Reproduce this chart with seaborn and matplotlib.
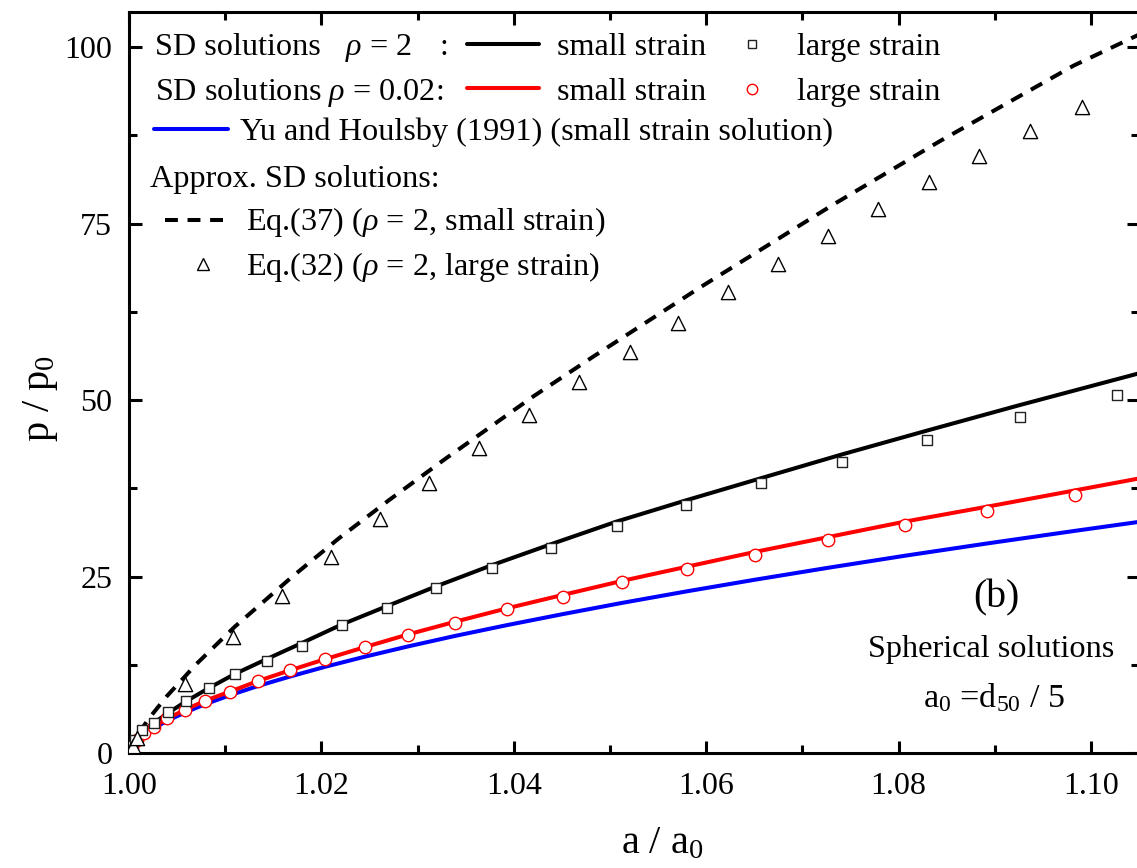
import matplotlib
matplotlib.use("Agg")
import matplotlib.pyplot as plt
from matplotlib.lines import Line2D
from matplotlib.ticker import MultipleLocator, FormatStrFormatter
import seaborn as sns

# ---- data: a/a0 versus p/p0 ----
# SD solution, rho = 2, small strain (solid black)
x_rho2_small = [1.0000, 1.0003, 1.0007, 1.0013, 1.0026, 1.0041, 1.0059, 1.0083, 1.0110,
                1.0143, 1.0180, 1.0221, 1.0268, 1.0319, 1.0377, 1.0439, 1.0507, 1.0579,
                1.0666, 1.0741, 1.0830, 1.0926, 1.1050]
y_rho2_small = [0.0, 0.95, 1.7, 3.0, 4.3, 5.7, 7.3, 9.2, 11.2,
                13.3, 15.6, 18.2, 20.8, 23.6, 26.6, 29.6, 32.8, 35.8,
                39.3, 42.3, 45.7, 49.3, 53.8]

# SD solution, rho = 2, large strain (squares)
x_rho2_large = [1.0000, 1.0001, 1.0003, 1.0006, 1.0013, 1.0026, 1.0041, 1.0059, 1.0083,
                1.0110, 1.0143, 1.0180, 1.0221, 1.0268, 1.0319, 1.0377, 1.0439, 1.0507,
                1.0579, 1.0657, 1.0741, 1.0830, 1.0926, 1.1027]
y_rho2_large = [0.0, 0.4, 1.0, 1.8, 3.2, 4.3, 5.8, 7.4, 9.2,
                11.2, 13.0, 15.2, 18.1, 20.6, 23.4, 26.2, 29.1, 32.1,
                35.1, 38.2, 41.3, 44.4, 47.6, 50.7]

# SD solution, rho = 0.02, small strain (solid red)
x_rho002_small = [1.0000, 1.0003, 1.0007, 1.0016, 1.0026, 1.0040, 1.0058, 1.0079, 1.0105,
                  1.0134, 1.0167, 1.0204, 1.0245, 1.0290, 1.0339, 1.0393, 1.0451, 1.0513,
                  1.0580, 1.0651, 1.0727, 1.0807, 1.0892, 1.0983, 1.1050]
y_rho002_small = [0.0, 1.0, 1.8, 2.9, 3.7, 4.9, 6.1, 7.4, 8.7,
                  10.2, 11.7, 13.3, 15.0, 16.8, 18.6, 20.5, 22.4, 24.4,
                  26.4, 28.5, 30.6, 32.8, 34.9, 37.2, 38.9]

# SD solution, rho = 0.02, large strain (circles)
x_rho002_large = [1.0000, 1.0003, 1.0008, 1.0016, 1.0026, 1.0040, 1.0058, 1.0079, 1.0105,
                  1.0134, 1.0167, 1.0204, 1.0245, 1.0290, 1.0339, 1.0393, 1.0451, 1.0513,
                  1.0580, 1.0651, 1.0727, 1.0807, 1.0892, 1.0983]
y_rho002_large = [0.0, 0.9, 1.9, 2.9, 3.7, 4.9, 6.1, 7.4, 8.7,
                  10.2, 11.7, 13.3, 15.0, 16.7, 18.4, 20.4, 22.1, 24.2,
                  26.1, 28.1, 30.2, 32.3, 34.3, 36.5]

# Yu and Houlsby (1991), small strain (solid blue)
x_yu = [1.0000, 1.0003, 1.0007, 1.0016, 1.0026, 1.0040, 1.0058, 1.0079, 1.0105,
        1.0134, 1.0167, 1.0204, 1.0245, 1.0290, 1.0339, 1.0393, 1.0451, 1.0513,
        1.0580, 1.0651, 1.0727, 1.0807, 1.0892, 1.0983, 1.1050]
y_yu = [0.0, 0.96, 1.6, 2.64, 3.54, 4.58, 5.73, 6.9, 8.19,
        9.49, 10.82, 12.22, 13.64, 15.1, 16.59, 18.12, 19.68, 21.28,
        22.91, 24.56, 26.25, 27.96, 29.69, 31.47, 32.75]

# Approximate solution Eq.(37), rho = 2, small strain (dashed)
x_eq37 = [1.0000, 1.0008, 1.0020, 1.0039, 1.0070, 1.0110, 1.0169, 1.0218, 1.0270,
          1.0328, 1.0420, 1.0483, 1.0594, 1.0732, 1.0843, 1.0982, 1.1050]
y_eq37 = [0.0, 2.34, 4.77, 8.0, 12.6, 17.9, 24.9, 30.4, 35.8,
          41.6, 50.5, 56.2, 66.0, 77.7, 86.7, 97.4, 101.8]

# Approximate solution Eq.(32), rho = 2, large strain (triangles)
x_eq32 = [1.0000, 1.0002, 1.0004, 1.00083, 1.0058, 1.0108, 1.0159, 1.0210, 1.0261,
          1.0312, 1.0364, 1.0416, 1.0468, 1.0521, 1.0571, 1.0623, 1.0675, 1.0727,
          1.0779, 1.0832, 1.0884, 1.0937, 1.0991]
y_eq32 = [0.0, 0.5, 1.0, 2.1, 9.8, 16.4, 22.2, 27.8, 33.1,
          38.2, 43.2, 47.9, 52.5, 56.8, 61.0, 65.3, 69.3, 73.2,
          77.1, 80.9, 84.6, 88.1, 91.6]

x_ticks = [1.00, 1.02, 1.04, 1.06, 1.08, 1.10]
y_ticks = [0, 25, 50, 75, 100]

# ---- style ----
sns.set_theme(style="ticks")
plt.rcParams['font.family'] = ['Liberation Serif', 'DejaVu Serif']
plt.rcParams['mathtext.fontset'] = 'custom'
plt.rcParams['mathtext.rm'] = 'Liberation Serif'
plt.rcParams['mathtext.it'] = 'Liberation Serif:italic'
plt.rcParams['mathtext.bf'] = 'Liberation Serif:bold'

W, H = 1137, 868
fig = plt.figure(figsize=(W / 100, H / 100), dpi=100)
fig.patch.set_facecolor('white')
ax = fig.add_axes([129 / W, (H - 753) / H, 1010 / W, 741 / H])
ax.set_facecolor('white')

LW = 2.9
RED = '#ff0000'
BLUE = '#0000ff'
DASH = (0, (3.2, 2.4))

sns.lineplot(x=x_yu, y=y_yu, ax=ax, color=BLUE, lw=LW, sort=False, estimator=None, zorder=2)
sns.lineplot(x=x_rho002_small, y=y_rho002_small, ax=ax, color=RED, lw=LW, sort=False,
             estimator=None, zorder=2.1)
sns.lineplot(x=x_rho2_small, y=y_rho2_small, ax=ax, color='black', lw=LW, sort=False,
             estimator=None, zorder=2.2)
sns.lineplot(x=x_eq37, y=y_eq37, ax=ax, color='black', lw=LW, sort=False, estimator=None,
             linestyle=DASH, zorder=2.3)

sns.scatterplot(x=x_rho002_large, y=y_rho002_large, ax=ax, marker='o', s=80,
                color='white', edgecolor=RED, linewidth=1.0, zorder=3)
sns.scatterplot(x=x_rho2_large, y=y_rho2_large, ax=ax, marker='s', s=42,
                color='white', edgecolor='#222222', linewidth=1.0, zorder=3.1)
sns.scatterplot(x=x_eq32, y=y_eq32, ax=ax, marker='^', s=105,
                color='white', edgecolor='black', linewidth=1.0, zorder=3.2)

# ---- axes ----
ax.set_xlim(1.0, 1.105)
ax.set_ylim(0, 105)
ax.set_xticks(x_ticks)
ax.set_yticks(y_ticks)
ax.xaxis.set_major_formatter(FormatStrFormatter('%.2f'))
ax.xaxis.set_minor_locator(MultipleLocator(0.01))
ax.yaxis.set_minor_locator(MultipleLocator(12.5))
ax.tick_params(which='both', direction='in', top=True, right=True, width=2.2,
               color='black', labelsize=23, labelcolor='black')
ax.tick_params(which='major', length=9)
ax.tick_params(which='minor', length=5.5)
ax.tick_params(axis='x', pad=14)
ax.tick_params(axis='y', pad=12)
for sp in ax.spines.values():
    sp.set_linewidth(2.2)
    sp.set_color('black')
ax.grid(False)

xl = ax.set_xlabel('a / a$_0$', fontsize=29, color='black')
xl.set_va('baseline')
ax.xaxis.set_label_coords(0.528, -(853 - 753) / 741)
yl = ax.set_ylabel('p / p$_0$', fontsize=29, color='black')
ax.yaxis.set_label_coords((60 - 129) / 1010, (753 - 398) / 741)


# ---- key (figure pixel coordinates, origin at top-left) ----
def fx(px):
    return px / W


def fy(py):
    return 1 - py / H


FS = 23.2
tkw = dict(transform=fig.transFigure, fontsize=FS, va='baseline', ha='left', color='black')


def sample_line(x0, x1, y, **kw):
    fig.add_artist(Line2D([fx(x0), fx(x1)], [fy(y), fy(y)], transform=fig.transFigure, **kw))


def sample_marker(x, y, **kw):
    fig.add_artist(Line2D([fx(x)], [fy(y)], transform=fig.transFigure, linestyle='none', **kw))


fig.text(fx(155), fy(55), 'SD solutions', **tkw)
fig.text(fx(345), fy(55), r'$\rho$ = 2', **tkw)
fig.text(fx(440), fy(55), ':', **tkw)
sample_line(467, 539, 44, color='black', lw=LW)
fig.text(fx(557), fy(55), 'small strain', **tkw)
sample_marker(752, 44, marker='s', ms=6, mfc='white', mec='#222222', mew=1.0)
fig.text(fx(797), fy(55), 'large strain', **tkw)

fig.text(fx(155), fy(100), r'SD solutions $\rho$ = 0.02:', **tkw)
sample_line(467, 539, 88, color=RED, lw=LW)
fig.text(fx(557), fy(100), 'small strain', **tkw)
sample_marker(752, 89, marker='o', ms=7.5, mfc='white', mec=RED, mew=1.0)
fig.text(fx(797), fy(100), 'large strain', **tkw)

sample_line(154, 228, 129, color=BLUE, lw=LW)
fig.text(fx(240), fy(140), 'Yu and Houlsby (1991) (small strain solution)', **tkw)

fig.text(fx(150), fy(187), 'Approx. SD solutions:', **tkw)
sample_line(165, 228, 220, color='black', lw=LW, linestyle=DASH)
fig.text(fx(246), fy(230), r'Eq.(37) ($\rho$ = 2, small strain)', **tkw)
sample_marker(203, 264, marker='^', ms=8, mfc='white', mec='black', mew=1.0)
fig.text(fx(246), fy(275), r'Eq.(32) ($\rho$ = 2, large strain)', **tkw)

# ---- annotation ----
fig.text(fx(996), fy(607), '(b)', transform=fig.transFigure, fontsize=28.5,
         ha='center', va='baseline', color='black')
fig.text(fx(991), fy(657), 'Spherical solutions', transform=fig.transFigure, fontsize=FS,
         ha='center', va='baseline', color='black')
fig.text(fx(994), fy(707), 'a$_0$ =d$_{50}$ / 5', transform=fig.transFigure, fontsize=24.5,
         ha='center', va='baseline', color='black')

fig.savefig('out.png', dpi=100, facecolor='white')
